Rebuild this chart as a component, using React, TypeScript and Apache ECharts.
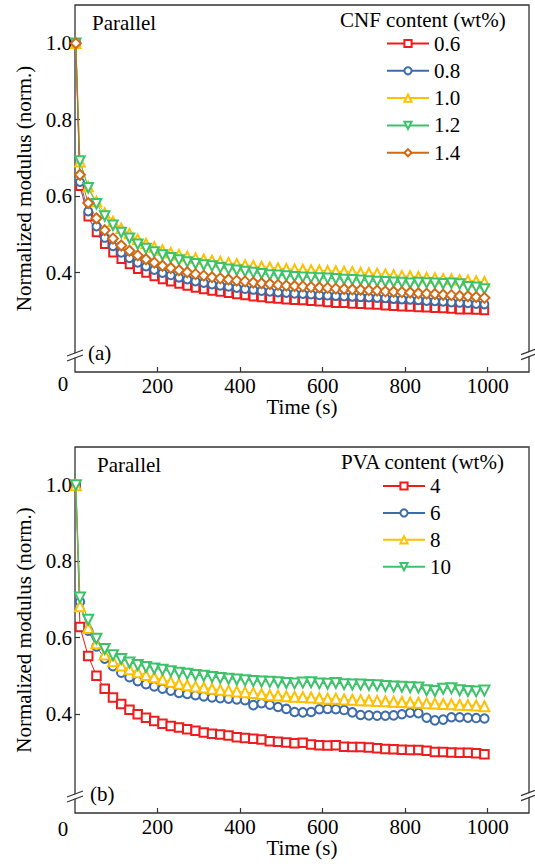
import React, { useEffect, useRef } from "react";
import * as echarts from "echarts";

const FONT = "Liberation Serif";

const times = [
  2, 12, 32, 52, 72, 92, 112, 132, 152, 172, 192, 212, 232, 252, 272, 292, 312,
  332, 352, 372, 392, 412, 432, 452, 472, 492, 512, 532, 552, 572, 592, 612,
  632, 652, 672, 692, 712, 732, 752, 772, 792, 812, 832, 852, 872, 892, 912,
  932, 952, 972, 992,
];

const xTicks = [200, 400, 600, 800, 1000];
const yTicks = [0.4, 0.6, 0.8, 1.0];

// Panel (a): CNF content
const cnfNames = ["0.6", "0.8", "1.0", "1.2", "1.4"];
const cnf06 = [
  1.0, 0.626, 0.546, 0.505, 0.474, 0.452, 0.435, 0.421, 0.409, 0.399, 0.39,
  0.382, 0.376, 0.37, 0.365, 0.36, 0.356, 0.352, 0.349, 0.346, 0.343, 0.34,
  0.337, 0.335, 0.332, 0.331, 0.329, 0.328, 0.327, 0.325, 0.324, 0.322, 0.32,
  0.32, 0.318, 0.317, 0.316, 0.315, 0.313, 0.312, 0.311, 0.31, 0.309, 0.308,
  0.307, 0.306, 0.305, 0.303, 0.303, 0.302, 0.301,
];
const cnf08 = [
  1.0, 0.637, 0.56, 0.521, 0.491, 0.469, 0.452, 0.438, 0.426, 0.416, 0.407,
  0.399, 0.393, 0.387, 0.382, 0.377, 0.373, 0.369, 0.366, 0.363, 0.36, 0.357,
  0.355, 0.352, 0.35, 0.348, 0.347, 0.345, 0.344, 0.343, 0.341, 0.34, 0.339,
  0.338, 0.337, 0.336, 0.335, 0.334, 0.333, 0.331, 0.33, 0.329, 0.328, 0.326,
  0.325, 0.324, 0.322, 0.321, 0.32, 0.318, 0.317,
];
const cnf10 = [
  1.0, 0.69, 0.625, 0.586, 0.556, 0.534, 0.516, 0.502, 0.487, 0.476, 0.467,
  0.459, 0.452, 0.447, 0.442, 0.438, 0.435, 0.432, 0.429, 0.426, 0.423, 0.42,
  0.418, 0.416, 0.414, 0.412, 0.41, 0.409, 0.408, 0.407, 0.406, 0.405, 0.404,
  0.403, 0.402, 0.4, 0.399, 0.398, 0.396, 0.394, 0.392, 0.391, 0.389, 0.387,
  0.386, 0.384, 0.383, 0.381, 0.38, 0.378, 0.376,
];
const cnf12 = [
  1.0, 0.692, 0.622, 0.58, 0.548, 0.524, 0.505, 0.49, 0.474, 0.463, 0.454,
  0.446, 0.439, 0.433, 0.428, 0.423, 0.42, 0.417, 0.413, 0.409, 0.406, 0.403,
  0.4, 0.397, 0.394, 0.393, 0.391, 0.389, 0.388, 0.387, 0.386, 0.385, 0.384,
  0.382, 0.381, 0.38, 0.378, 0.377, 0.376, 0.375, 0.374, 0.372, 0.374, 0.373,
  0.372, 0.371, 0.372, 0.37, 0.363, 0.362, 0.357,
];
const cnf14 = [
  1.0, 0.656, 0.582, 0.542, 0.511, 0.489, 0.471, 0.457, 0.445, 0.435, 0.426,
  0.418, 0.412, 0.406, 0.401, 0.396, 0.392, 0.388, 0.385, 0.382, 0.379, 0.377,
  0.374, 0.372, 0.37, 0.368, 0.366, 0.365, 0.364, 0.362, 0.361, 0.36, 0.358,
  0.357, 0.356, 0.355, 0.354, 0.353, 0.351, 0.35, 0.349, 0.348, 0.346, 0.345,
  0.344, 0.342, 0.341, 0.339, 0.338, 0.336, 0.334,
];

// Panel (b): PVA content
const pvaNames = ["4", "6", "8", "10"];
const pva4 = [
  1.0, 0.628, 0.552, 0.5, 0.466, 0.443, 0.426, 0.411, 0.399, 0.39, 0.381,
  0.374, 0.368, 0.364, 0.36, 0.356, 0.351, 0.348, 0.346, 0.343, 0.339, 0.337,
  0.335, 0.333, 0.328, 0.327, 0.325, 0.323, 0.324, 0.32, 0.318, 0.317, 0.318,
  0.314, 0.313, 0.313, 0.312, 0.31, 0.308, 0.307, 0.306, 0.305, 0.305, 0.303,
  0.3, 0.3, 0.299, 0.298, 0.298, 0.297, 0.294,
];
const pva6 = [
  1.0, 0.694, 0.618, 0.577, 0.545, 0.525, 0.508, 0.496, 0.486, 0.478, 0.472,
  0.466, 0.461, 0.455, 0.452, 0.449, 0.446, 0.443, 0.441, 0.44, 0.438, 0.436,
  0.423, 0.428, 0.424, 0.418, 0.413, 0.405, 0.404, 0.405, 0.412, 0.413, 0.412,
  0.41, 0.404, 0.397, 0.396, 0.395, 0.395, 0.396, 0.399, 0.403, 0.402, 0.39,
  0.383, 0.385, 0.391, 0.391, 0.39, 0.389, 0.388,
];
const pva8 = [
  1.0, 0.682, 0.625, 0.585, 0.556, 0.538, 0.527, 0.517, 0.509, 0.502, 0.496,
  0.49, 0.484, 0.479, 0.475, 0.472, 0.469, 0.466, 0.463, 0.461, 0.459, 0.457,
  0.455, 0.452, 0.449, 0.448, 0.446, 0.445, 0.444, 0.443, 0.441, 0.44, 0.44,
  0.438, 0.437, 0.436, 0.435, 0.434, 0.433, 0.432, 0.431, 0.43, 0.429, 0.428,
  0.427, 0.426, 0.425, 0.424, 0.423, 0.422, 0.42,
];
const pva10 = [
  1.0, 0.705, 0.647, 0.597, 0.57, 0.554, 0.544, 0.535, 0.528, 0.523, 0.519,
  0.516, 0.512, 0.508, 0.505, 0.502, 0.5, 0.497, 0.494, 0.492, 0.49, 0.488,
  0.486, 0.485, 0.484, 0.483, 0.481, 0.48, 0.482, 0.483, 0.48, 0.479, 0.481,
  0.478, 0.477, 0.477, 0.476, 0.475, 0.473, 0.472, 0.471, 0.47, 0.469, 0.462,
  0.46, 0.466, 0.467, 0.462, 0.46, 0.459, 0.461,
];

const RED = "#f01c1c";
const BLUE = "#3d6da8";
const YELLOW = "#ffc000";
const GREEN = "#3cc36a";
const ORANGE = "#d06a14";

const AXIS = "#333";

function zip(vals: number[]) {
  return times.map((t, i) => [t, vals[i]]);
}

function mkSeries(
  name: string,
  vals: number[],
  color: string,
  symbol: string,
  size: number,
  idx: number,
  rotate = 0
) {
  return {
    type: "line",
    name,
    xAxisIndex: idx,
    yAxisIndex: idx,
    data: zip(vals),
    symbol,
    symbolSize: size,
    symbolRotate: rotate,
    showAllSymbol: true,
    lineStyle: { color, width: 1 },
    itemStyle: { color, borderColor: color, borderWidth: 1.2 },
    emphasis: { disabled: true },
  };
}

function xAxis(idx: number) {
  return {
    type: "value",
    gridIndex: idx,
    min: 0,
    max: 1100,
    name: "Time (s)",
    nameLocation: "middle",
    nameGap: 24,
    nameTextStyle: { fontFamily: FONT, fontSize: 21, color: "#000" },
    axisLine: { show: false },
    splitLine: { show: false },
    axisTick: {
      show: true,
      inside: true,
      length: 5,
      customValues: xTicks,
      lineStyle: { color: AXIS, width: 1.2 },
    },
    axisLabel: {
      customValues: xTicks,
      margin: 3,
      fontFamily: FONT,
      fontSize: 21,
      color: "#000",
      formatter: (v: number) => String(v),
    },
  };
}

function yAxis(idx: number) {
  return {
    type: "value",
    gridIndex: idx,
    min: 0.14,
    max: 1.1,
    name: "Normalized modulus (norm.)",
    nameLocation: "middle",
    nameGap: 38,
    nameTextStyle: { fontFamily: FONT, fontSize: 21, color: "#000" },
    axisLine: { show: false },
    splitLine: { show: false },
    axisTick: {
      show: true,
      inside: true,
      length: 5,
      customValues: yTicks,
      lineStyle: { color: AXIS, width: 1.2 },
    },
    axisLabel: {
      customValues: yTicks,
      margin: 3,
      fontFamily: FONT,
      fontSize: 21,
      color: "#000",
      formatter: (v: number) => v.toFixed(1),
    },
  };
}

function txt(text: string, x: number, y: number, align = "left") {
  return {
    type: "text",
    x,
    y,
    z: 100,
    silent: true,
    style: {
      text,
      fontFamily: FONT,
      fontSize: 21,
      fill: "#000",
      textAlign: align,
      textVerticalAlign: "middle",
    },
  };
}

function brk(cx: number, cy: number, w: number) {
  // decorative axis-break mark "//"
  const h = w * 0.38;
  return [
    {
      type: "polygon",
      z: 100,
      silent: true,
      shape: {
        points: [
          [cx - 4, cy + 2],
          [cx + 4, cy - 1],
          [cx + 4, cy + 3],
          [cx - 4, cy + 6],
        ],
      },
      style: { fill: "#fff" },
    },
    {
      type: "line",
      z: 101,
      silent: true,
      shape: { x1: cx - w / 2, y1: cy + h / 2, x2: cx + w / 2, y2: cy - h / 2 },
      style: { stroke: AXIS, lineWidth: 1.2 },
    },
    {
      type: "line",
      z: 101,
      silent: true,
      shape: {
        x1: cx - w / 2,
        y1: cy + h / 2 + 5,
        x2: cx + w / 2,
        y2: cy - h / 2 + 5,
      },
      style: { stroke: AXIS, lineWidth: 1.2 },
    },
  ];
}

export default function App() {
  const ref = useRef<HTMLDivElement>(null);
  useEffect(() => {
    if (!ref.current) return;
    const chart = echarts.init(ref.current, null, { renderer: "svg" });
    const legendCommon = {
      orient: "vertical",
      selectedMode: false,
      padding: 0,
      itemWidth: 42,
      itemHeight: 9,
      textStyle: {
        fontFamily: FONT,
        fontSize: 21,
        color: "#000",
        lineHeight: 21,
      },
    };
    chart.setOption({
      animation: false,
      backgroundColor: "#fff",
      textStyle: { fontFamily: FONT },
      grid: [
        {
          left: 75,
          top: 5,
          right: 6,
          height: 367,
          show: true,
          borderColor: AXIS,
          borderWidth: 1.3,
          backgroundColor: "transparent",
        },
        {
          left: 75,
          top: 447,
          right: 6,
          height: 366,
          show: true,
          borderColor: AXIS,
          borderWidth: 1.3,
          backgroundColor: "transparent",
        },
      ],
      xAxis: [xAxis(0), xAxis(1)],
      yAxis: [yAxis(0), yAxis(1)],
      legend: [
        {
          ...legendCommon,
          left: 386,
          top: 33,
          itemGap: 6.3,
          data: cnfNames,
        },
        {
          ...legendCommon,
          left: 382,
          top: 475.5,
          itemGap: 5.9,
          data: pvaNames,
        },
      ],
      series: [
        mkSeries(cnfNames[0], cnf06, RED, "emptyRect", 7.5, 0),
        mkSeries(cnfNames[1], cnf08, BLUE, "emptyCircle", 8, 0),
        mkSeries(cnfNames[2], cnf10, YELLOW, "emptyTriangle", 9.5, 0),
        mkSeries(cnfNames[3], cnf12, GREEN, "emptyTriangle", 9.5, 0, 180),
        mkSeries(cnfNames[4], cnf14, ORANGE, "emptyDiamond", 10, 0),
        mkSeries(pvaNames[0], pva4, RED, "emptyRect", 8.5, 1),
        mkSeries(pvaNames[1], pva6, BLUE, "emptyCircle", 8.5, 1),
        mkSeries(pvaNames[2], pva8, YELLOW, "emptyTriangle", 10, 1),
        mkSeries(pvaNames[3], pva10, GREEN, "emptyTriangle", 10, 1, 180),
      ],
      graphic: [
        txt("Parallel", 92, 23),
        txt("CNF content (wt%)", 340, 20),
        txt("(a)", 88, 353),
        txt("0", 63, 384, "center"),
        txt("Parallel", 97, 465),
        txt("PVA content (wt%)", 341, 462),
        txt("(b)", 90, 794),
        txt("0", 63, 829, "center"),
        ...brk(75, 353, 16),
        ...brk(528, 352, 14),
        ...brk(75, 794, 16),
        ...brk(528, 793, 14),
      ],
    });
    return () => chart.dispose();
  }, []);
  return (
    <div
      ref={ref}
      style={{
        position: "absolute",
        left: 0,
        top: 0,
        width: 535,
        height: 864,
        background: "#fff",
      }}
    />
  );
}
